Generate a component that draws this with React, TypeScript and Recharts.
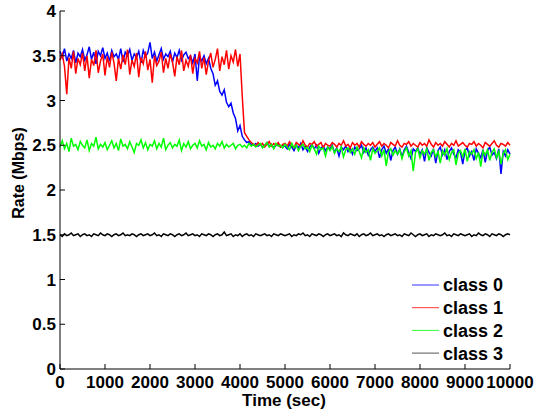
import { LineChart, Line, XAxis, YAxis } from 'recharts'

// one sample every 50 s, 0..10000 s
const SAMPLE_STEP = 50

const class0 = [
  3.55, 3.48, 3.58, 3.44, 3.52, 3.47, 3.56, 3.42, 3.53, 3.49,
  3.57, 3.45, 3.51, 3.60, 3.46, 3.54, 3.41, 3.55, 3.50, 3.59,
  3.47, 3.53, 3.44, 3.56, 3.49, 3.52, 3.46, 3.58, 3.43, 3.54,
  3.50, 3.57, 3.45, 3.52, 3.48, 3.55, 3.42, 3.56, 3.49, 3.53,
  3.65, 3.47, 3.54, 3.44, 3.51, 3.58, 3.46, 3.52, 3.49, 3.55,
  3.43, 3.53, 3.48, 3.56, 3.45, 3.51, 3.54, 3.47, 3.50, 3.42,
  3.52, 3.22, 3.49, 3.44, 3.50, 3.41, 3.47,
  3.36, 3.30, 3.17, 3.22, 3.10, 3.06, 3.12, 2.98, 2.93, 2.97, 2.86, 2.80, 2.66, 2.72,
  2.60, 2.56, 2.53, 2.54, 2.51,
  2.50, 2.52, 2.49, 2.51, 2.48, 2.50, 2.53, 2.49, 2.51, 2.47, 2.50, 2.52, 2.48, 2.50,
  2.49, 2.46, 2.51, 2.48, 2.44, 2.50, 2.47, 2.52, 2.45, 2.49, 2.43, 2.48, 2.51, 2.46, 2.50, 2.41, 2.47, 2.49, 2.44, 2.48,
  2.46, 2.50, 2.42, 2.47, 2.38, 2.48, 2.45, 2.49, 2.43, 2.47, 2.40, 2.48, 2.44, 2.46, 2.50, 2.42, 2.47, 2.39, 2.45, 2.48,
  2.43, 2.47, 2.36, 2.45, 2.49, 2.41, 2.46, 2.33, 2.44, 2.48, 2.40, 2.46, 2.37, 2.45, 2.49, 2.42, 2.35, 2.46, 2.43, 2.47,
  2.40, 2.45, 2.32, 2.47, 2.42, 2.38, 2.46, 2.30, 2.44, 2.48, 2.39, 2.45, 2.34, 2.43, 2.47, 2.40, 2.36, 2.45, 2.42, 2.29,
  2.44, 2.47, 2.38, 2.43, 2.33, 2.46, 2.41, 2.36, 2.45, 2.31, 2.44, 2.48, 2.39, 2.42, 2.35, 2.46, 2.18, 2.43, 2.38, 2.45, 2.40,
]

const class1 = [
  3.45, 3.52, 3.38, 3.07, 3.48, 3.36, 3.55, 3.30, 3.47, 3.40,
  3.53, 3.33, 3.50, 3.25, 3.46, 3.39, 3.56, 3.31, 3.44, 3.52,
  3.28, 3.49, 3.37, 3.54, 3.42, 3.22, 3.47, 3.35, 3.51, 3.40,
  3.57, 3.29, 3.45, 3.38, 3.53, 3.26, 3.48, 3.41, 3.55, 3.34,
  3.46, 3.20, 3.50, 3.39, 3.44, 3.54, 3.31, 3.47, 3.36, 3.52,
  3.43, 3.27, 3.49, 3.40, 3.56, 3.33, 3.45, 3.38, 3.51, 3.30,
  3.47, 3.42, 3.55, 3.36, 3.48, 3.29, 3.44, 3.53, 3.37, 3.46,
  3.58, 3.33, 3.49, 3.40, 3.56, 3.35, 3.50, 3.43, 3.57, 3.38,
  3.52,
  3.05, 2.64, 2.60, 2.56, 2.53,
  2.51, 2.49, 2.53, 2.50, 2.52, 2.48, 2.51, 2.54, 2.49, 2.52, 2.50, 2.53, 2.48, 2.51,
  2.52, 2.49, 2.54, 2.50, 2.47, 2.53, 2.51, 2.49, 2.55, 2.50, 2.48, 2.52, 2.51, 2.54, 2.49, 2.51, 2.53, 2.47, 2.52, 2.50,
  2.49, 2.53, 2.51, 2.48, 2.52, 2.50, 2.55, 2.49, 2.51, 2.47, 2.53, 2.50, 2.52, 2.48, 2.54, 2.51, 2.49, 2.52, 2.50, 2.53,
  2.48, 2.51, 2.54, 2.49, 2.52, 2.50, 2.47, 2.53, 2.51, 2.49, 2.55, 2.50, 2.48, 2.52, 2.51, 2.54, 2.49, 2.52, 2.50, 2.48,
  2.53, 2.50, 2.52, 2.49, 2.56, 2.51, 2.48, 2.53, 2.50, 2.52, 2.49, 2.54, 2.51, 2.48, 2.52, 2.50, 2.55, 2.49, 2.51, 2.53,
  2.50, 2.48, 2.52, 2.51, 2.54, 2.49, 2.52, 2.50, 2.47, 2.53, 2.51, 2.49, 2.52, 2.55, 2.50, 2.48, 2.52, 2.51, 2.49, 2.53, 2.50,
]

const class2 = [
  2.48, 2.55, 2.46, 2.52, 2.43, 2.58, 2.49, 2.51, 2.45, 2.54,
  2.50, 2.47, 2.56, 2.44, 2.52, 2.49, 2.59, 2.46, 2.51, 2.48,
  2.53, 2.45, 2.50, 2.55, 2.47, 2.52, 2.44, 2.57, 2.49, 2.51,
  2.46, 2.54, 2.48, 2.42, 2.52, 2.50, 2.56, 2.47, 2.53, 2.45,
  2.51, 2.49, 2.55, 2.46, 2.52, 2.48, 2.58, 2.45, 2.50, 2.53,
  2.47, 2.51, 2.49, 2.56, 2.44, 2.52, 2.48, 2.54, 2.46, 2.50,
  2.52, 2.47, 2.55, 2.49, 2.51, 2.45, 2.53, 2.48, 2.50, 2.46,
  2.52, 2.49, 2.54, 2.47, 2.51, 2.48, 2.50, 2.52, 2.46, 2.50,
  2.51, 2.48, 2.50, 2.47, 2.52, 2.49, 2.51, 2.48, 2.50, 2.52,
  2.47, 2.50, 2.53, 2.48, 2.51, 2.46, 2.52, 2.49, 2.50, 2.47,
  2.51, 2.48, 2.45, 2.52, 2.47, 2.50, 2.44, 2.49, 2.51, 2.46,
  2.48, 2.43, 2.50, 2.46, 2.40, 2.49, 2.45, 2.47, 2.38, 2.48, 2.44, 2.49, 2.41, 2.46, 2.43, 2.48, 2.37, 2.45, 2.47, 2.42,
  2.46, 2.40, 2.48, 2.43, 2.36, 2.47, 2.42, 2.45, 2.33, 2.46, 2.41, 2.44, 2.47, 2.38, 2.45, 2.27, 2.43, 2.46, 2.39, 2.44,
  2.40, 2.45, 2.35, 2.43, 2.47, 2.38, 2.44, 2.21, 2.42, 2.46, 2.36, 2.44, 2.40, 2.46, 2.33, 2.42, 2.45, 2.37, 2.43, 2.30,
  2.44, 2.39, 2.46, 2.34, 2.42, 2.45, 2.28, 2.41, 2.44, 2.37, 2.46, 2.32, 2.43, 2.40, 2.45, 2.35, 2.42, 2.26, 2.44, 2.39,
  2.45, 2.33, 2.42, 2.46, 2.36, 2.43, 2.29, 2.41, 2.45, 2.34, 2.40,
]

const class3 = [
  1.50, 1.48, 1.51, 1.49, 1.50, 1.52, 1.49, 1.50, 1.51, 1.48,
  1.50, 1.51, 1.49, 1.50, 1.48, 1.51, 1.50, 1.49, 1.52, 1.50,
  1.49, 1.51, 1.50, 1.48, 1.50, 1.51, 1.49, 1.50, 1.52, 1.49,
  1.50, 1.49, 1.51, 1.50, 1.48, 1.50, 1.51, 1.49, 1.50, 1.51,
  1.49, 1.50, 1.52, 1.49, 1.50, 1.48, 1.51, 1.50, 1.49, 1.51,
  1.50, 1.48, 1.50, 1.51, 1.49, 1.50, 1.52, 1.49, 1.50, 1.51,
  1.49, 1.50, 1.48, 1.51, 1.50, 1.49, 1.51, 1.50, 1.48, 1.50,
  1.51, 1.49, 1.50, 1.53, 1.49, 1.50, 1.51, 1.48, 1.50, 1.49,
  1.51, 1.48, 1.50, 1.51, 1.49, 1.50, 1.48, 1.51, 1.50, 1.49,
  1.50, 1.51, 1.49, 1.50, 1.48, 1.51, 1.50, 1.49, 1.51, 1.50,
  1.49, 1.50, 1.51, 1.48, 1.50, 1.49, 1.51, 1.50, 1.52, 1.49,
  1.50, 1.48, 1.51, 1.50, 1.49, 1.51, 1.50, 1.48, 1.50, 1.51,
  1.49, 1.50, 1.51, 1.49, 1.50, 1.48, 1.52, 1.50, 1.49, 1.51,
  1.50, 1.49, 1.51, 1.48, 1.50, 1.51, 1.49, 1.50, 1.52, 1.49,
  1.50, 1.51, 1.49, 1.50, 1.48, 1.50, 1.51, 1.49, 1.50, 1.51,
  1.49, 1.50, 1.48, 1.51, 1.50, 1.49, 1.52, 1.50, 1.48, 1.50,
  1.51, 1.49, 1.50, 1.51, 1.48, 1.50, 1.49, 1.51, 1.50, 1.49,
  1.50, 1.52, 1.49, 1.50, 1.48, 1.51, 1.50, 1.49, 1.51, 1.50,
  1.49, 1.50, 1.51, 1.48, 1.50, 1.49, 1.52, 1.50, 1.49, 1.51,
  1.50, 1.48, 1.51, 1.50, 1.49, 1.51, 1.50, 1.48, 1.50, 1.51,
  1.50,
]

const seriesNames = ['class 0', 'class 1', 'class 2', 'class 3']
const seriesKeys = ['c0', 'c1', 'c2', 'c3']
const seriesColors = ['#0000ff', '#ff0000', '#00ff00', '#000000']
const legendColors = ['#3333ff', '#ff3333', '#33ff33', '#555555']

const xTicks = [0, 1000, 2000, 3000, 4000, 5000, 6000, 7000, 8000, 9000, 10000]
const yTicks = [0, 0.5, 1, 1.5, 2, 2.5, 3, 3.5, 4]

const data = class0.map((v, i) => ({
  t: i * SAMPLE_STEP,
  c0: v,
  c1: class1[i],
  c2: class2[i],
  c3: class3[i],
}))

const FONT = '"Liberation Sans", Arial, Helvetica, sans-serif'

function XTick(props: any) {
  const { x, y, payload } = props
  return (
    <g>
      <line x1={x} y1={y} x2={x} y2={y - 5} stroke="#000" strokeWidth={1} />
      <text x={x} y={y + 19} textAnchor="middle" fontFamily={FONT} fontWeight="bold" fontSize={17} fill="#000">
        {payload.value}
      </text>
    </g>
  )
}

function YTick(props: any) {
  const { x, y, payload } = props
  return (
    <g>
      <line x1={x} y1={y} x2={x + 5} y2={y} stroke="#000" strokeWidth={1} />
      <text x={x - 4} y={y} dy="0.36em" textAnchor="end" fontFamily={FONT} fontWeight="bold" fontSize={17} fill="#000">
        {payload.value}
      </text>
    </g>
  )
}

export default function App() {
  return (
    <div style={{ position: 'relative', width: 538, height: 415, background: '#fff' }}>
      <style>{'body{margin:0}'}</style>
      <LineChart width={538} height={415} data={data} margin={{ top: 11, right: 28, bottom: 0, left: 0 }}>
        <XAxis
          dataKey="t"
          type="number"
          domain={[0, 10000]}
          ticks={xTicks}
          interval={0}
          height={46}
          tickSize={0}
          tickMargin={0}
          tickLine={false}
          axisLine={{ stroke: '#000' }}
          tick={<XTick />}
        />
        <YAxis
          type="number"
          domain={[0, 4]}
          ticks={yTicks}
          interval={0}
          width={60}
          tickSize={0}
          tickMargin={0}
          tickLine={false}
          axisLine={{ stroke: '#000' }}
          tick={<YTick />}
        />
        {seriesKeys.map((k, i) => (
          <Line
            key={k}
            type="linear"
            dataKey={k}
            name={seriesNames[i]}
            stroke={seriesColors[i]}
            strokeWidth={1.5}
            dot={false}
            isAnimationActive={false}
          />
        ))}
      </LineChart>
      <svg width={538} height={415} style={{ position: 'absolute', left: 0, top: 0, pointerEvents: 'none' }}>
        <text x={284} y={406} textAnchor="middle" fontFamily={FONT} fontWeight="bold" fontSize={17} fill="#000">
          Time (sec)
        </text>
        <text
          x={0}
          y={0}
          transform="translate(24,173) rotate(-90)"
          textAnchor="middle"
          fontFamily={FONT}
          fontWeight="bold"
          fontSize={16}
          fill="#000"
        >
          Rate (Mbps)
        </text>
        {seriesNames.map((n, i) => (
          <g key={n}>
            <line x1={412} x2={439} y1={285 + i * 22.7} y2={285 + i * 22.7} stroke={legendColors[i]} strokeWidth={1} />
            <text x={443} y={285 + i * 22.7} dy="0.36em" fontFamily={FONT} fontWeight="bold" fontSize={18} fill="#000">
              {n}
            </text>
          </g>
        ))}
      </svg>
    </div>
  )
}
